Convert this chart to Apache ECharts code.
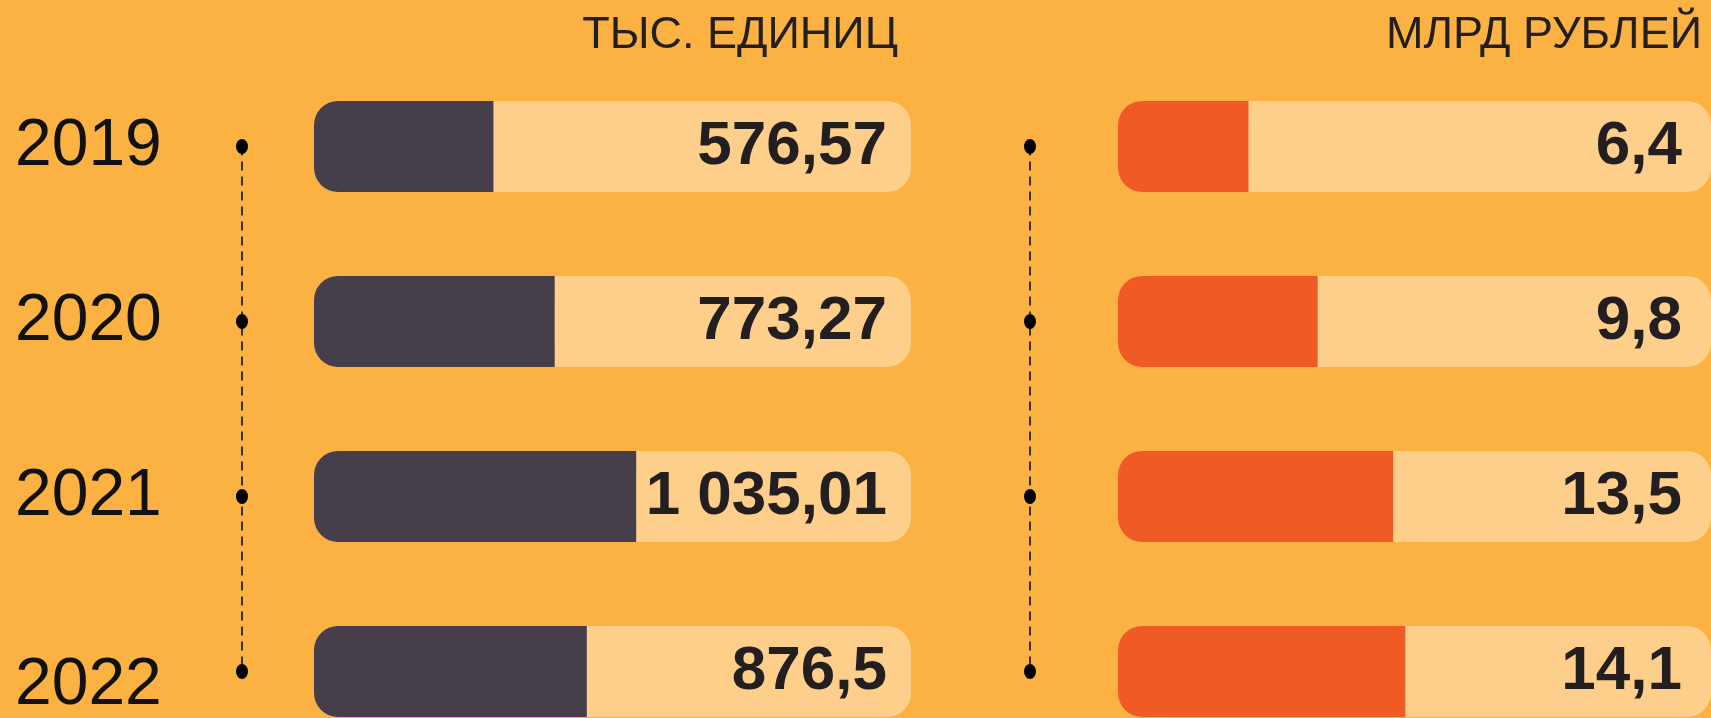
<!DOCTYPE html>
<html>
<head>
<meta charset="utf-8">
<title>chart</title>
<script src="https://cdn.jsdelivr.net/npm/echarts@6/dist/echarts.min.js"></script>
<style>
html, body { margin: 0; padding: 0; background: #FBB243; }
#bar-chart { width: 1711px; height: 718px; }
</style>
</head>
<body>
<div id="bar-chart"></div>
<script>
// данные
var years = ['2019', '2020', '2021', '2022'];
var unitsValues = [576.57, 773.27, 1035.01, 876.5];   // тыс. единиц
var rublesValues = [6.4, 9.8, 13.5, 14.1];            // млрд рублей
var unitsMax = 1918;
var rublesMax = 29.1;
var timelineValues = [0, 0, 0, 0];

function fmt(v) {
    var parts = String(v).split('.');
    var intPart = parts[0].replace(/\B(?=(\d{3})+(?!\d))/g, ' ');
    return parts.length > 1 ? intPart + ',' + parts[1] : intPart;
}

function fill(len, v) {
    var arr = [];
    for (var i = 0; i < len; i++) arr.push(v);
    return arr;
}

var myBarChart = echarts.init(document.getElementById('bar-chart'));

var gridTop = 59, gridHeight = 700;

option = {
    backgroundColor: '#FBB243',
    animation: false,
    title: [
        {
            text: 'ТЫС. ЕДИНИЦ',
            right: 808,
            top: 8,
            textStyle: { fontFamily: 'Liberation Sans, Arial', fontSize: 45, fontWeight: 'normal', color: '#231F20' }
        },
        {
            text: 'МЛРД РУБЛЕЙ',
            right: 4,
            top: 8,
            textStyle: { fontFamily: 'Liberation Sans, Arial', fontSize: 45, fontWeight: 'normal', color: '#231F20' }
        }
    ],
    grid: [
        { left: 314, width: 597, top: gridTop, height: gridHeight, outerBoundsMode: 'none' },
        { left: 1118, width: 593, top: gridTop, height: gridHeight, outerBoundsMode: 'none' },
        { left: 237, width: 10, top: gridTop, height: gridHeight, outerBoundsMode: 'none' },
        { left: 1025, width: 10, top: gridTop, height: gridHeight, outerBoundsMode: 'none' }
    ],
    xAxis: [
        { type: 'value', gridIndex: 0, min: 0, max: unitsMax, show: false },
        { type: 'value', gridIndex: 1, min: 0, max: rublesMax, show: false },
        { type: 'value', gridIndex: 2, min: -1, max: 1, show: false },
        { type: 'value', gridIndex: 3, min: -1, max: 1, show: false }
    ],
    yAxis: [
        { type: 'category', gridIndex: 0, data: years, inverse: true, show: false },
        { type: 'category', gridIndex: 1, data: years, inverse: true, show: false },
        {
            type: 'category', gridIndex: 2, data: years, inverse: true,
            axisLine: { show: false }, axisTick: { show: false }, splitLine: { show: false },
            axisLabel: {
                show: true,
                align: 'left',
                margin: 222,
                fontFamily: 'Liberation Sans, Arial',
                fontSize: 66,
                color: '#111',
                formatter: function (value, index) {
                    return index === 3 ? '{low|' + value + '}' : '{n|' + value + '}';
                },
                rich: {
                    n: { fontFamily: 'Liberation Sans, Arial', fontSize: 66, color: '#111' },
                    low: { fontFamily: 'Liberation Sans, Arial', fontSize: 66, color: '#111', padding: [28, 0, 0, 0] }
                }
            }
        },
        { type: 'category', gridIndex: 3, data: years, inverse: true, show: false }
    ],
    series: [
        {
            name: 'track1',
            type: 'bar',
            xAxisIndex: 0, yAxisIndex: 0,
            barWidth: 91,
            data: fill(years.length, unitsMax),
            itemStyle: { color: '#FDCF8A', borderRadius: 24 },
            label: {
                show: true,
                position: 'insideRight',
                distance: 24,
                fontFamily: 'Liberation Sans, Arial',
                fontWeight: 'bold',
                fontSize: 62,
                color: '#231F20',
                formatter: function (p) { return fmt(unitsValues[p.dataIndex]); }
            },
            silent: true
        },
        {
            name: 'units',
            type: 'bar',
            xAxisIndex: 0, yAxisIndex: 0,
            barWidth: 91,
            barGap: '-100%',
            data: unitsValues,
            itemStyle: { color: '#463F4B', borderRadius: [24, 0, 0, 24] }
        },
        {
            name: 'track2',
            type: 'bar',
            xAxisIndex: 1, yAxisIndex: 1,
            barWidth: 91,
            data: fill(years.length, rublesMax),
            itemStyle: { color: '#FDCF8A', borderRadius: 24 },
            label: {
                show: true,
                position: 'insideRight',
                distance: 29,
                fontFamily: 'Liberation Sans, Arial',
                fontWeight: 'bold',
                fontSize: 62,
                color: '#231F20',
                formatter: function (p) { return fmt(rublesValues[p.dataIndex]); }
            },
            silent: true
        },
        {
            name: 'rubles',
            type: 'bar',
            xAxisIndex: 1, yAxisIndex: 1,
            barWidth: 91,
            barGap: '-100%',
            data: rublesValues,
            itemStyle: { color: '#F05A24', borderRadius: [24, 0, 0, 24] }
        },
        {
            name: 'timeline1',
            type: 'line',
            xAxisIndex: 2, yAxisIndex: 2,
            data: timelineValues,
            symbol: 'circle',
            symbolSize: [12, 15],
            itemStyle: { color: '#000' },
            lineStyle: { color: '#333', width: 2, type: [9, 6] }
        },
        {
            name: 'timeline2',
            type: 'line',
            xAxisIndex: 3, yAxisIndex: 3,
            data: timelineValues,
            symbol: 'circle',
            symbolSize: [12, 15],
            itemStyle: { color: '#000' },
            lineStyle: { color: '#333', width: 2, type: [9, 6] }
        }
    ]
};

myBarChart.setOption(option);
window.addEventListener("resize", function () {
    myBarChart.resize();
});
</script>
</body>
</html>
